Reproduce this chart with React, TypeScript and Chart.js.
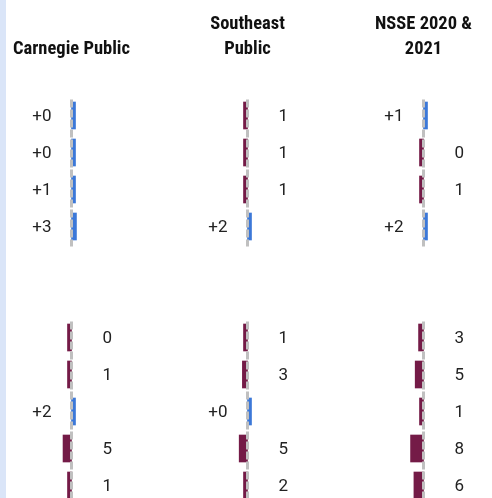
import React, { useEffect, useRef } from "react";
import { Chart, registerables } from "chart.js";

Chart.register(...registerables);

const rows = ["Row 1", "Row 2", "Row 3", "Row 4", "", " ", "Row 5", "Row 6", "Row 7", "Row 8", "Row 9"];

const carnegieTitle = ["", "Carnegie Public"];
const southeastTitle = ["Southeast", "Public"];
const nsseTitle = ["NSSE 2020 &", "2021"];

const carnegieValues = [0.4, 0.3, 1.2, 3.1, null, null, -0.4, -1.1, 2.2, -5.3, -1.2];
const southeastValues = [-1.1, -0.9, -1.0, 2.3, null, null, -1.0, -3.2, 0.4, -5.2, -2.1];
const nsseValues = [1.4, -0.4, -1.0, 2.4, null, null, -3.1, -5.2, -1.0, -8.1, -6.0];

const BLUE = "#3c78d8";
const PURPLE = "#741b47";
const GRID = "#c0c0c0";
const LABEL_FONT = "17px Roboto, 'Noto Sans', sans-serif";

const overlayPlugin = {
  id: "overlay",
  afterDatasetsDraw(chart: any) {
    const ctx = chart.ctx;
    const xs = chart.scales.x;
    const ys = chart.scales.y;
    const data: (number | null)[] = chart.data.datasets[0].data;
    const x0 = xs.getPixelForValue(0);
    const half = (ys.getPixelForValue(1) - ys.getPixelForValue(0)) / 2;
    // dashed zero line per contiguous group of rows
    ctx.save();
    ctx.strokeStyle = GRID;
    ctx.lineWidth = 3;
    ctx.setLineDash([8, 2]);
    let start = -1;
    for (let i = 0; i <= data.length; i++) {
      const has = i < data.length && data[i] !== null;
      if (has && start < 0) start = i;
      if (!has && start >= 0) {
        const yTop = ys.getPixelForValue(start) - half + 2.5;
        const yBot = ys.getPixelForValue(i - 1) + half + 1.5;
        ctx.beginPath();
        ctx.moveTo(x0, yTop);
        ctx.lineTo(x0, yBot);
        ctx.stroke();
        start = -1;
      }
    }
    ctx.restore();
    // value labels
    ctx.save();
    ctx.font = LABEL_FONT;
    ctx.fillStyle = "#222222";
    ctx.textBaseline = "middle";
    data.forEach((v, i) => {
      if (v === null) return;
      const y = ys.getPixelForValue(i) + 1;
      if (v > 0) {
        ctx.textAlign = "right";
        ctx.fillText("+" + Math.round(v), x0 - 20, y);
      } else {
        ctx.textAlign = "left";
        ctx.fillText(String(Math.round(Math.abs(v))), x0 + 31, y);
      }
    });
    ctx.restore();
  },
};

function Panel(props: { title: string[]; values: (number | null)[]; left: number; width: number }) {
  const ref = useRef<HTMLCanvasElement | null>(null);
  useEffect(() => {
    if (!ref.current) return;
    const chart = new Chart(ref.current, {
      type: "bar",
      data: {
        labels: rows,
        datasets: [
          {
            data: props.values as any,
            backgroundColor: (c: any) => ((c.raw ?? 0) > 0 ? BLUE : PURPLE),
            barThickness: 27,
            minBarLength: 4,
            borderWidth: 0,
          },
        ],
      },
      options: {
        indexAxis: "y",
        animation: false,
        responsive: false,
        maintainAspectRatio: false,
        layout: { padding: 0 },
        scales: {
          x: { display: false, min: -41, max: 41 },
          y: { display: false, offset: true },
        },
        plugins: {
          legend: { display: false },
          tooltip: { enabled: false },
          title: {
            display: true,
            text: props.title,
            color: "#111111",
            font: {
              family: "'Roboto Condensed', 'Liberation Sans Narrow', 'DejaVu Sans Condensed', Roboto, sans-serif",
              size: 18.5,
              weight: "bold",
              lineHeight: 25 / 18.5,
            },
            padding: { top: 12, bottom: 35 },
          },
        },
      },
      plugins: [overlayPlugin],
    });
    return () => chart.destroy();
  }, []);
  return (
    <canvas
      ref={ref}
      width={props.width}
      height={504}
      style={{ position: "absolute", left: props.left, top: 0, width: props.width, height: 504 }}
    />
  );
}

export default function App() {
  return (
    <div
      style={{
        position: "absolute",
        left: 0,
        top: 0,
        width: 492,
        height: 498,
        overflow: "hidden",
        background: "#ffffff",
      }}
    >
      <div style={{ position: "absolute", left: 0, top: 0, width: 6, height: 498, background: "#dae5f8" }} />
      <Panel title={carnegieTitle} values={carnegieValues} left={6} width={131} />
      <Panel title={southeastTitle} values={southeastValues} left={182} width={131} />
      <Panel title={nsseTitle} values={nsseValues} left={358} width={131} />
    </div>
  );
}
